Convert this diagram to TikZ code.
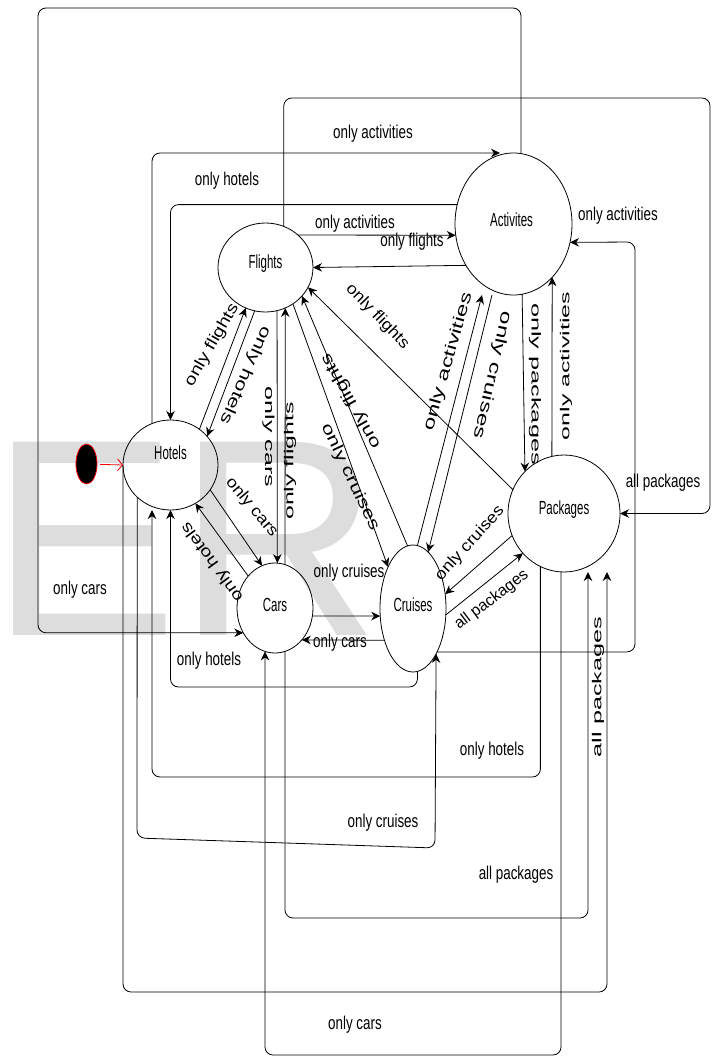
\documentclass[tikz,border=0pt]{standalone}
\usepackage{graphicx}
\usepackage{fontspec}
\setmainfont{Liberation Sans}
\usetikzlibrary{arrows.meta,shapes.geometric}
\definecolor{wm}{RGB}{221,221,221}
\newcommand{\hlab}[1]{\scalebox{1.34}[1.85]{#1}}
\newcommand{\vlab}[2]{\scalebox{#1}[1.3]{#2}}
\newcommand{\dlab}[2]{\scalebox{#1}[1.6]{#2}}
\newcommand{\nlab}[1]{\scalebox{1.15}[1.9]{#1}}
\tikzset{
  state/.style={draw, ellipse, line width=0.8pt, inner sep=0pt, outer sep=0pt},
  ntext/.style={inner sep=0pt, font=\fontsize{10}{12}\selectfont},
  edge/.style={draw, line width=0.8pt, rounded corners=8pt, -{Stealth[length=9pt,width=8.5pt]}},
  lbl/.style={inner sep=0pt, font=\fontsize{10}{12}\selectfont},
}
\begin{document}
\begin{tikzpicture}[x=1pt,y=-1pt]
\useasboundingbox (0,0) rectangle (717,1059);
% watermark
\node[anchor=base west, inner sep=0pt, text=wm, font=\fontsize{281}{281}\selectfont] (wmk) at (-10,635) {ER};

% states
\node[state, minimum width=95pt, minimum height=89pt, label={[ntext,yshift=4pt]center:\nlab{Flights}}] (fl) at (265.5,267.5) {};
\node[state, minimum width=117pt, minimum height=142pt, label={[ntext,yshift=4pt,xshift=-2pt]center:\nlab{Activites}}] (ac) at (513.5,224) {};
\node[state, minimum width=95pt, minimum height=90pt, label={[ntext,yshift=12.5pt]center:\nlab{Hotels}}] (ho) at (170.5,465) {};
\node[state, minimum width=76pt, minimum height=90pt, label={[ntext,yshift=3.5pt]center:\nlab{Cars}}] (ca) at (275,608) {};
\node[state, minimum width=66pt, minimum height=127pt, label={[ntext,yshift=4pt]center:\nlab{Cruises}}] (cr) at (413,608.5) {};
\node[state, minimum width=112pt, minimum height=117pt, label={[ntext,yshift=3.5pt]center:\nlab{Packages}}] (pk) at (564,513.5) {};
\node[draw=red, fill=black, ellipse, line width=0.8pt, inner sep=0pt, outer sep=0pt, minimum width=21pt, minimum height=40pt] (st) at (86.5,464) {};

% start arrow
\draw[red, line width=0.8pt, shorten <=3pt, -{Straight Barb[length=5pt,width=12pt]}] (st) -- (ho.west);

% connectors
\draw[edge] (ac.north -| 521,0) |- (38,8) |- (ca.218);
\draw[edge] (ho.114) |- (ac.north -| 500,0);
\draw[edge] (ac.161) -| (ho.north);
\draw[edge] (fl.66) |- (710,98) |- (pk.east);
\draw[edge] (cr.-61) -| (635,242) -- (ac.-18);
\draw[edge] (fl.45) -- (ac.191);
\draw[edge] (ac.221) -- (fl.east);
\draw[edge] (ho.51) -- (fl.244);
\draw[edge] (fl.256) -- (ho.38);
\draw[edge] (fl.-75) -- (ca.87);
\draw[edge] (ca.77) -- (fl.-64);
\draw[edge] (ho.-32) -- (ca.107);
\draw[edge] (ca.130) -- (ho.-57);
\draw[edge] (fl.-53) -- (cr.121);
\draw[edge] (cr.95) -- (fl.-38);
\draw[edge] (pk.155) -- (fl.-25);
\draw[edge] (cr.86) -- (ac.south -| 482,0);
\draw[edge] (ac.south -| 492,0) -- (cr.75);
\draw[edge] (ac.-83) -- (pk.133);
\draw[edge] (pk.102) -- (ac.-54);
\draw[edge] (pk.203) -- (cr.24);
\draw[edge] (cr.-11) -- (pk.224);
\draw[edge] (ca.-12) -- (cr.193);
\draw[edge] (cr.228) -- (ca.-50);
\draw[edge] (cr.-86) |- (300,687) -| (ho.south);
\draw[edge] (ho.224) -- (137,838) -- (435,848) -- (cr.-63);
\draw[edge] (pk.246) |- (152,777) -- (ho.south -| 152,0);
\draw[edge] (ho.west) -- (123,992) -| (pk.south -| 607,0);
\draw[edge] (pk.south -| 561,0) |- (ca.257 |- 0,1055) -- (ca.257);
\draw[edge] (ca.-77) |- (588,918) -- (pk.south -| 588,0);

% horizontal labels
\node[lbl] (h1) at (373,134) {\hlab{only activities}};
\node[lbl] (h2) at (227,181) {\hlab{only hotels}};
\node[lbl] (h3) at (355,224) {\hlab{only activities}};
\node[lbl] (h4) at (412,242) {\hlab{only flights}};
\node[lbl] (h5) at (618,216) {\hlab{only activities}};
\node[lbl] (h6) at (663,483) {\hlab{all packages}};
\node[lbl] (h7) at (80,590) {\hlab{only cars}};
\node[lbl] (h8) at (349,573) {\hlab{only cruises}};
\node[lbl] (h9) at (340,643) {\hlab{only cars}};
\node[lbl] (h10) at (209,661) {\hlab{only hotels}};
\node[lbl] (h11) at (492,751) {\hlab{only hotels}};
\node[lbl] (h12) at (383,823) {\hlab{only cruises}};
\node[lbl] (h13) at (516,875) {\hlab{all packages}};
\node[lbl] (h14) at (355,1025) {\hlab{only cars}};

% rotated labels
\node[lbl, rotate=60] (r1) at (212,345) {\dlab{1.96}{only flights}};
\node[lbl, rotate=246] (r2) at (245,375) {\dlab{2.2}{only hotels}};
\node[lbl, rotate=-90] (r3) at (268.5,437) {\vlab{2.5}{only cars}};
\node[lbl, rotate=90] (r4) at (290,461) {\vlab{2.48}{only flights}};
\node[lbl, rotate=-50] (r5) at (251.7,507.5) {\dlab{1.8}{only cars}};
\node[lbl, rotate=126] (r6) at (212.5,561.7) {\dlab{1.97}{only hotels}};
\node[lbl, rotate=-64.5] (r7) at (350,477.5) {\dlab{2.2}{only cruises}};
\node[lbl, rotate=119.5] (r8) at (351,401) {\dlab{2.24}{only flights}};
\node[lbl, rotate=-46] (r9) at (377.5,316.7) {\dlab{1.77}{only flights}};
\node[lbl, rotate=74] (r10) at (448.3,361.7) {\dlab{2.4}{only activities}};
\node[lbl, rotate=-102.6] (r11) at (492.5,375) {\dlab{2.46}{only cruises}};
\node[lbl, rotate=-90] (r12) at (535,384) {\vlab{2.53}{only packages}};
\node[lbl, rotate=90] (r13) at (566,366) {\vlab{2.49}{only activities}};
\node[lbl, rotate=48] (r14) at (470,543.3) {\dlab{1.79}{only cruises}};
\node[lbl, rotate=37] (r15) at (491.7,600) {\dlab{1.58}{all packages}};
\node[lbl, rotate=90] (r16) at (598,687) {\vlab{2.52}{all packages}};
\end{tikzpicture}
\end{document}
